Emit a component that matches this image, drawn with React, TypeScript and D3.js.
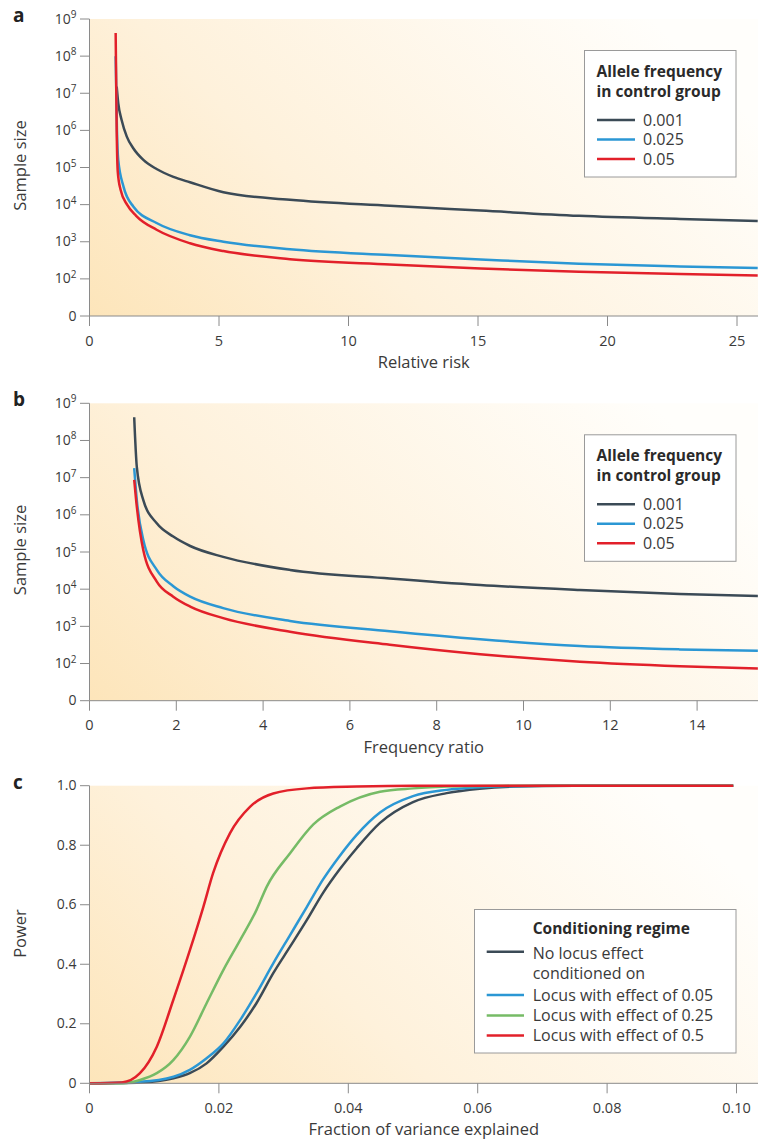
import React from 'react';
import * as d3 from 'd3';

// ---------- DATA ----------
// Panel a: relative risk vs sample size
const aX_dark = [1.05, 1.11, 1.24, 1.44, 1.69, 2.08, 2.59, 3.24, 3.88, 5.17, 7.74, 11.6, 15.1, 18.9, 22.8, 25.8];
const aN_dark = [1.5e7, 5.4e6, 1.9e6, 6.8e5, 3.3e5, 1.6e5, 9.1e4, 5.6e4, 4.0e4, 2.15e4, 1.35e4, 9.3e3, 6.9e3, 5.0e3, 4.1e3, 3.6e3];
const aX_blue = [1.01, 1.06, 1.11, 1.31, 1.69, 2.59, 3.88, 5.17, 7.74, 11.6, 15.1, 18.9, 22.8, 25.8];
const aN_blue = [1e8, 1e6, 1.6e5, 3.1e4, 8.9e3, 3.2e3, 1.5e3, 1.0e3, 630, 440, 335, 255, 215, 195];
const aX_red = [1.01, 1.05, 1.09, 1.2, 1.45, 1.8, 2.59, 3.88, 5.17, 7.74, 11.6, 15.1, 18.9, 22.8, 25.8];
const aN_red = [4.2e8, 1e6, 7.9e4, 2.5e4, 1.0e4, 5.0e3, 2.1e3, 910, 560, 340, 245, 190, 155, 135, 123];

// Panel b: frequency ratio vs sample size
const bX = [1.03, 1.09, 1.24, 1.55, 1.93, 2.32, 3.08, 4.62, 6.92, 9.0, 11.3, 13.6, 15.4];
const bN_dark = [4.2e8, 1.95e7, 2.5e6, 5.9e5, 2.6e5, 1.45e5, 7.4e4, 3.3e4, 1.95e4, 1.3e4, 9.5e3, 7.4e3, 6.6e3];
const bN_blue = [1.8e7, 2.5e6, 2.1e5, 3.3e4, 1.2e4, 6.3e3, 3.1e3, 1.4e3, 740, 450, 295, 240, 220];
const bN_red = [8.7e6, 1.66e6, 1.12e5, 1.6e4, 6.3e3, 3.4e3, 1.66e3, 720, 320, 178, 112, 85, 74];

// Panel c: fraction of variance explained vs power
const cX_dark = [0, 0.008, 0.013, 0.0155, 0.0181, 0.0207, 0.0233, 0.0258, 0.0284, 0.031, 0.0336, 0.0361, 0.0387, 0.0413, 0.0449, 0.05, 0.0552, 0.0603, 0.0655, 0.075, 0.0995];
const cP_dark = [0, 0.003, 0.017, 0.034, 0.067, 0.123, 0.19, 0.269, 0.37, 0.459, 0.549, 0.64, 0.72, 0.79, 0.875, 0.945, 0.975, 0.99, 0.997, 1, 1];
const cX_blue = [0, 0.0078, 0.013, 0.0155, 0.0181, 0.0207, 0.0233, 0.0258, 0.0284, 0.031, 0.0336, 0.0361, 0.0387, 0.0413, 0.0449, 0.05, 0.0552, 0.0603, 0.07, 0.0995];
const cP_blue = [0, 0.005, 0.022, 0.045, 0.084, 0.134, 0.213, 0.302, 0.403, 0.498, 0.593, 0.685, 0.765, 0.835, 0.91, 0.965, 0.986, 0.995, 1, 1];
const cX_green = [0, 0.0052, 0.0078, 0.0104, 0.01295, 0.01553, 0.0181, 0.0207, 0.0233, 0.0258, 0.0274, 0.031, 0.0346, 0.0387, 0.0449, 0.05, 0.0552, 0.065, 0.0995];
const cP_green = [0, 0, 0.011, 0.034, 0.078, 0.157, 0.269, 0.381, 0.482, 0.582, 0.661, 0.773, 0.87, 0.93, 0.98, 0.991, 0.997, 1, 1];
const cX_red = [0, 0.005, 0.0078, 0.0104, 0.01295, 0.01553, 0.0176, 0.0191, 0.0217, 0.0248, 0.0284, 0.0336, 0.0413, 0.05, 0.0995];
const cP_red = [0, 0.003, 0.034, 0.123, 0.28, 0.448, 0.593, 0.706, 0.84, 0.929, 0.974, 0.991, 0.997, 1, 1];

const logTicks = [10, 1e2, 1e3, 1e4, 1e5, 1e6, 1e7, 1e8, 1e9];
const aXTicks = [0, 5, 10, 15, 20, 25];
const bXTicks = [0, 2, 4, 6, 8, 10, 12, 14];
const cXTicks = [0, 0.02, 0.04, 0.06, 0.08, 0.1];
const cXTickLabels = ['0', '0.02', '0.04', '0.06', '0.08', '0.10'];
const cYTicks = [0, 0.2, 0.4, 0.6, 0.8, 1.0];
const cYTickLabels = ['0', '0.2', '0.4', '0.6', '0.8', '1.0'];

const abLegendTitle = ['Allele frequency', 'in control group'];
const abLegendLabels = ['0.001', '0.025', '0.05'];
const cLegendTitle = 'Conditioning regime';
const cLegendLabels = [['No locus effect', 'conditioned on'], ['Locus with effect of 0.05'], ['Locus with effect of 0.25'], ['Locus with effect of 0.5']];

// ---------- STYLE ----------
const FONT = "'Open Sans', 'Noto Sans', 'DejaVu Sans', sans-serif";
const C_DARK = '#3b4a56';
const C_BLUE = '#2b97d4';
const C_RED = '#e2202a';
const C_GREEN = '#76bb66';
const AXIS = '#8a8a8a';
const TEXT = '#3a3a3a';
const W = 758, H = 1142;
const LEFT = 89.5, RIGHT = 758;

type Series = { xs: number[]; ys: number[]; color: string };

function Background({ id, top, bottom }: { id: string; top: number; bottom: number }) {
  const L = 430;
  return (
    <g>
      <defs>
        <linearGradient id={id} gradientUnits="userSpaceOnUse" x1={LEFT} y1={bottom} x2={LEFT + L} y2={bottom - L}>
          <stop offset="0" stopColor="#fde5ba" />
          <stop offset="0.4" stopColor="#fef1db" />
          <stop offset="1" stopColor="#fffefb" />
        </linearGradient>
      </defs>
      <rect x={LEFT} y={top} width={RIGHT - LEFT} height={bottom - top} fill={`url(#${id})`} />
    </g>
  );
}

function Curves({ series, x, y }: { series: Series[]; x: any; y: any }) {
  return (
    <g>
      {series.map((s, i) => {
        const pts = s.xs.map((v, j) => [v, s.ys[j]] as [number, number]);
        const line = d3.line<[number, number]>().x(d => x(d[0])).y(d => y(d[1])).curve(d3.curveMonotoneX);
        return <path key={i} d={line(pts) || ''} fill="none" stroke={s.color} strokeWidth={2.5} strokeLinecap="butt" />;
      })}
    </g>
  );
}

function XAxis({ x, bottom, ticks, labels, title }: { x: any; bottom: number; ticks: number[]; labels: string[]; title: string }) {
  return (
    <g>
      <line x1={LEFT} x2={RIGHT} y1={bottom} y2={bottom} stroke={AXIS} strokeWidth={1} />
      {ticks.map((t, i) => (
        <g key={i}>
          <line x1={x(t)} x2={x(t)} y1={bottom} y2={bottom + 10} stroke={AXIS} strokeWidth={1} />
          <text x={x(t)} y={bottom + 29.5} textAnchor="middle" fontSize={14.5} fill={TEXT} fontFamily={FONT}>{labels[i]}</text>
        </g>
      ))}
      <text x={(LEFT + RIGHT) / 2} y={bottom + 52} textAnchor="middle" fontSize={16.5} fill={TEXT} fontFamily={FONT}>{title}</text>
    </g>
  );
}

function YAxisLog({ y, top, bottom }: { y: any; top: number; bottom: number }) {
  return (
    <g>
      <line x1={LEFT} x2={LEFT} y1={top} y2={bottom} stroke={AXIS} strokeWidth={1} />
      {logTicks.map((t, i) => (
        <g key={i}>
          <line x1={LEFT - 9.5} x2={LEFT} y1={y(t)} y2={y(t)} stroke={AXIS} strokeWidth={1} />
          {t === 10 ? (
            <text x={LEFT - 13} y={y(t) + 4.5} textAnchor="end" fontSize={14} fill={TEXT} fontFamily={FONT}>0</text>
          ) : (
            <text x={LEFT - 13} y={y(t) + 4.5} textAnchor="end" fontSize={14} fill={TEXT} fontFamily={FONT}>
              10<tspan dy={-5.5} fontSize={10}>{Math.round(Math.log10(t))}</tspan>
            </text>
          )}
        </g>
      ))}
    </g>
  );
}

function YTitle({ cy, text }: { cy: number; text: string }) {
  return (
    <text transform={`translate(26,${cy}) rotate(-90)`} textAnchor="middle" fontSize={16.5} fill={TEXT} fontFamily={FONT}>{text}</text>
  );
}

function AlleleLegend({ top }: { top: number }) {
  const colors = [C_DARK, C_BLUE, C_RED];
  const rows = [top + 70, top + 89.5, top + 109];
  return (
    <g>
      <rect x={584.5} y={top + 0.5} width={151.5} height={126.5} fill="#fff" stroke="#9a9a9a" strokeWidth={1} />
      {abLegendTitle.map((t, i) => (
        <text key={i} x={596.5} y={top + 26.5 + i * 20} fontSize={15.5} fontWeight={700} fill="#2a2a2a" fontFamily={FONT}>{t}</text>
      ))}
      {abLegendLabels.map((l, i) => (
        <g key={i}>
          <line x1={597} x2={635} y1={rows[i]} y2={rows[i]} stroke={colors[i]} strokeWidth={2.5} />
          <text x={643} y={rows[i] + 5.5} fontSize={16} fill={TEXT} fontFamily={FONT}>{l}</text>
        </g>
      ))}
    </g>
  );
}

function SampleSizePanel({ top, bottom, xMax, xTicks, xTitle, letter, series, gid }: any) {
  const x = d3.scaleLinear().domain([0, xMax]).range([LEFT, RIGHT]);
  const y = d3.scaleLog().domain([10, 1e9]).range([bottom, top]);
  return (
    <g>
      <Background id={gid} top={top} bottom={bottom} />
      <Curves series={series} x={x} y={y} />
      <YAxisLog y={y} top={top} bottom={bottom} />
      <XAxis x={x} bottom={bottom} ticks={xTicks} labels={xTicks.map(String)} title={xTitle} />
      <YTitle cy={(top + bottom) / 2 - 2} text="Sample size" />
      <text x={13} y={top + 3} fontSize={19} fontWeight={700} fill="#222" fontFamily={FONT}>{letter}</text>
      <AlleleLegend top={top + 31} />
    </g>
  );
}

function PowerPanel() {
  const top = 785.7, bottom = 1083.3;
  const x = d3.scaleLinear().domain([0, (RIGHT - LEFT) / 6470]).range([LEFT, RIGHT]);
  const y = d3.scaleLinear().domain([0, 1]).range([bottom, top]);
  const series: Series[] = [
    { xs: cX_dark, ys: cP_dark, color: C_DARK },
    { xs: cX_blue, ys: cP_blue, color: C_BLUE },
    { xs: cX_green, ys: cP_green, color: C_GREEN },
    { xs: cX_red, ys: cP_red, color: C_RED },
  ];
  const colors = [C_DARK, C_BLUE, C_GREEN, C_RED];
  const lineYs = [951.7, 995, 1015.5, 1035.5];
  const textYs = [[959.3, 979.3], [1000.5], [1021], [1041.3]];
  return (
    <g>
      <Background id="gc" top={top} bottom={bottom} />
      <Curves series={series} x={x} y={y} />
      <line x1={LEFT} x2={LEFT} y1={top} y2={bottom} stroke={AXIS} strokeWidth={1} />
      {cYTicks.map((t, i) => (
        <g key={i}>
          <line x1={LEFT - 9.5} x2={LEFT} y1={y(t)} y2={y(t)} stroke={AXIS} strokeWidth={1} />
          <text x={LEFT - 13} y={y(t) + 4.5} textAnchor="end" fontSize={14} fill={TEXT} fontFamily={FONT}>{cYTickLabels[i]}</text>
        </g>
      ))}
      <XAxis x={x} bottom={bottom} ticks={cXTicks} labels={cXTickLabels} title="Fraction of variance explained" />
      <YTitle cy={(top + bottom) / 2 - 1} text="Power" />
      <text x={13} y={top + 3} fontSize={19} fontWeight={700} fill="#222" fontFamily={FONT}>c</text>
      <rect x={474.5} y={909.5} width={261.5} height={143.5} fill="#fff" stroke="#9a9a9a" strokeWidth={1} />
      <text x={532.7} y={934} fontSize={15.5} fontWeight={700} fill="#2a2a2a" fontFamily={FONT}>{cLegendTitle}</text>
      {cLegendLabels.map((lines, i) => (
        <g key={i}>
          <line x1={486.7} x2={524} y1={lineYs[i]} y2={lineYs[i]} stroke={colors[i]} strokeWidth={2.5} />
          {lines.map((l, j) => (
            <text key={j} x={532.7} y={textYs[i][j]} fontSize={16} fill={TEXT} fontFamily={FONT}>{l}</text>
          ))}
        </g>
      ))}
    </g>
  );
}

export default function App() {
  const seriesA: Series[] = [
    { xs: aX_dark, ys: aN_dark, color: C_DARK },
    { xs: aX_blue, ys: aN_blue, color: C_BLUE },
    { xs: aX_red, ys: aN_red, color: C_RED },
  ];
  const seriesB: Series[] = [
    { xs: bX, ys: bN_dark, color: C_DARK },
    { xs: bX, ys: bN_blue, color: C_BLUE },
    { xs: bX, ys: bN_red, color: C_RED },
  ];
  return (
    <svg width={W} height={H} viewBox={`0 0 ${W} ${H}`} style={{ position: 'absolute', left: 0, top: 0, background: '#fff' }}>
      <rect x={0} y={0} width={W} height={H} fill="#fff" />
      <SampleSizePanel top={19} bottom={316} xMax={(RIGHT - LEFT) / 25.9} xTicks={aXTicks} xTitle="Relative risk" letter="a" series={seriesA} gid="ga" />
      <SampleSizePanel top={403.3} bottom={700.7} xMax={(RIGHT - LEFT) / 43.4} xTicks={bXTicks} xTitle="Frequency ratio" letter="b" series={seriesB} gid="gb" />
      <PowerPanel />
    </svg>
  );
}
